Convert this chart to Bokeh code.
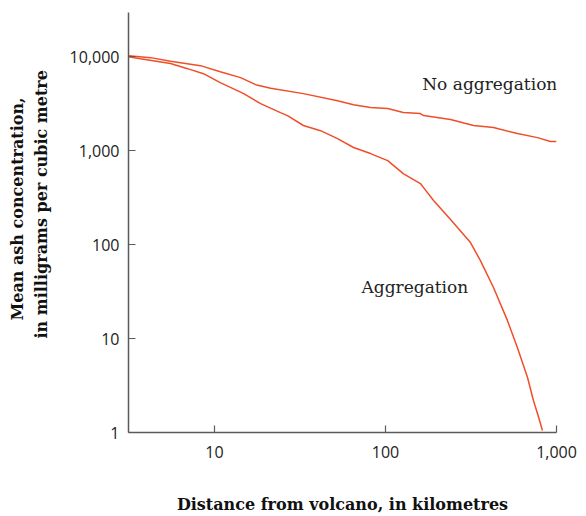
from bokeh.plotting import figure
from bokeh.models import FixedTicker, NumeralTickFormatter, Range1d, Label, Title
from bokeh.embed import file_html
from bokeh.resources import INLINE

# Distance from volcano (km) and mean ash concentration (mg/m^3)
no_agg_x = [3.14, 4.23, 5.53, 8.28, 10.8, 14.2, 17.4, 21.3, 33.1, 52.4, 65.0, 81.7,
            103, 127, 160, 167, 240, 327, 428, 591, 774, 922, 1000]
no_agg_y = [10250, 9760, 8910, 8020, 6920, 5980, 5030, 4600, 4040, 3400, 3080, 2870,
            2800, 2540, 2480, 2360, 2140, 1850, 1760, 1520, 1375, 1250, 1250]

agg_x = [3.14, 3.69, 5.53, 6.95, 8.62, 10.8, 13.6, 14.8, 18.6, 24.3, 26.7, 33.1,
         41.7, 52.4, 65.0, 81.7, 103, 127, 160, 167, 191, 240, 314, 359, 428,
         517, 591, 677, 733, 774, 828]
agg_y = [10000, 9520, 8440, 7450, 6590, 5290, 4350, 4040, 3160, 2540, 2360, 1850,
         1630, 1340, 1080, 930, 783, 569, 446, 404, 294, 185, 105, 67.6, 34.9,
         15.5, 8.0, 3.85, 2.19, 1.59, 1.05]

x_ticks = [10, 100, 1000]
y_ticks = [1, 10, 100, 1000, 10000]

x_title = "Distance from volcano, in kilometres"
y_title_1 = "Mean ash concentration,"
y_title_2 = "in milligrams per cubic metre"

SERIF = "DejaVu Serif"
SANS = "Open Sans"
LINE = "#f04e28"
AXIS = "#5a5a5a"

p = figure(width=578, height=516, x_axis_type="log", y_axis_type="log",
           x_range=Range1d(3.14, 1000), y_range=Range1d(1, 29500),
           output_backend="svg", toolbar_location=None,
           min_border_left=128, min_border_right=22, min_border_top=12,
           min_border_bottom=84)
p.outline_line_color = None
p.grid.visible = False
p.background_fill_color = "white"

p.line(no_agg_x, no_agg_y, line_color=LINE, line_width=1.5)
p.line(agg_x, agg_y, line_color=LINE, line_width=1.5)

p.add_layout(Label(x=164, y=5160, text="No aggregation", text_font=SERIF,
                   text_font_size="17px", text_color="#222222",
                   text_baseline="middle", text_align="left"))
p.add_layout(Label(x=72.4, y=35.7, text="Aggregation", text_font=SERIF,
                   text_font_size="17px", text_color="#222222",
                   text_baseline="middle", text_align="left"))

for ax in (p.xaxis[0], p.yaxis[0]):
    ax.axis_line_color = AXIS
    ax.axis_line_width = 1.5
    ax.major_tick_line_color = AXIS
    ax.major_tick_line_width = 1.2
    ax.major_tick_in = 7
    ax.major_tick_out = 0
    ax.minor_tick_line_color = None
    ax.major_label_text_font = SANS
    ax.major_label_text_font_size = "16px"
    ax.major_label_text_color = "#222222"
    ax.formatter = NumeralTickFormatter(format="0,0")

p.xaxis[0].ticker = FixedTicker(ticks=x_ticks)
p.yaxis[0].ticker = FixedTicker(ticks=y_ticks)
p.xaxis[0].major_label_standoff = 13
p.yaxis[0].major_label_standoff = 9

p.xaxis[0].axis_label = x_title
p.xaxis[0].axis_label_standoff = 34
p.xaxis[0].axis_label_text_font = SERIF
p.xaxis[0].axis_label_text_font_size = "16px"
p.xaxis[0].axis_label_text_font_style = "bold"
p.xaxis[0].axis_label_text_color = "#111111"

p.add_layout(Title(text=y_title_2, align="left", offset=94, standoff=31,
                   text_font=SERIF, text_font_size="16px", text_font_style="bold",
                   text_color="#111111"), "left")
p.add_layout(Title(text=y_title_1, align="left", offset=112, standoff=-25,
                   text_font=SERIF, text_font_size="16px", text_font_style="bold",
                   text_color="#111111"), "left")

open("out.html", "w").write(file_html(p, INLINE))
